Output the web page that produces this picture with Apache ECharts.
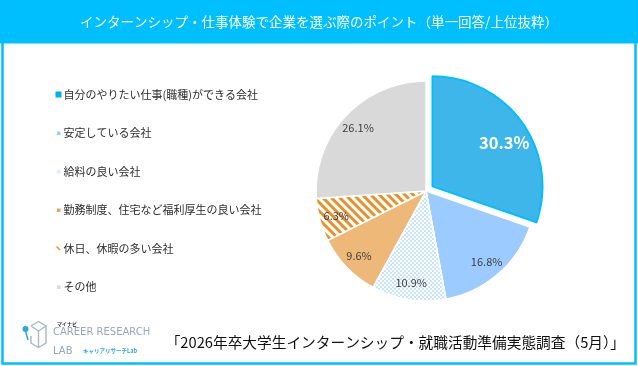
<!DOCTYPE html>
<html><head><meta charset="utf-8">
<script src="https://cdn.jsdelivr.net/npm/echarts@6/dist/echarts.min.js"></script>
<style>html,body{margin:0;padding:0;background:#fff}#c{width:638px;height:366px}</style>
</head><body><div id="c"></div>
<script>
const categories = ['自分のやりたい仕事(職種)ができる会社','安定している会社','給料の良い会社','勤務制度、住宅など福利厚生の良い会社','休日、休暇の多い会社','その他'];
const values = [30.3, 16.8, 10.9, 9.6, 6.3, 26.1];
const titleText = 'インターンシップ・仕事体験で企業を選ぶ際のポイント（単一回答/上位抜粋）';
const sourceText = '「2026年卒大学生インターンシップ・就職活動準備実態調査（5月）」';

const FONT = '"Noto Sans CJK JP", "Noto Sans", sans-serif';
const CYAN = '#00BFFF';
const styles = [
  {color:'#3FB6EA', borderColor:CYAN, borderWidth:2},
  {color:'#9CCBFF', borderColor:'#fff', borderWidth:1.5},
  {color:'#ffffff', borderColor:'#fff', borderWidth:1.5,
   decal:{symbol:'rect', symbolSize:1, color:'#C6E4FF', dashArrayX:[[2,2],[0,2,2,0]], dashArrayY:[2,0], rotation:0}},
  {color:'#EDB878', borderColor:'#fff', borderWidth:1.5},
  {color:'#ffffff', borderColor:'#fff', borderWidth:1.5,
   decal:{symbol:'rect', symbolSize:1, color:'#E8912C', dashArrayX:[1,0], dashArrayY:[3,3], rotation:Math.PI/4}},
  {color:'#D9D9D9', borderColor:'#fff', borderWidth:1.5}
];
const labelStyles = [
  {color:'#fff', fontSize:16.5, fontWeight:'bold'},
  {color:'#404040', fontSize:11},{color:'#404040', fontSize:11},{color:'#404040', fontSize:11},
  {color:'#404040', fontSize:11},{color:'#404040', fontSize:11}
];
const legendIcons = [
  {icon:'path://M0,0M8,8M1,1h6v6h-6z', color:'#00B0F0'},
  {icon:'path://M0,0M8,8M2.5,2.5h3.5v3.5h-3.5z', color:'#9CCBFF'},
  {icon:'path://M0,0M8,8M2.5,2.5h3.5v3.5h-3.5z', color:'#D6ECFF'},
  {icon:'path://M0,0M8,8M2.5,2.5h3.5v3.5h-3.5z', color:'#EDA55A'},
  {icon:'path://M0,0M8,8M1.5,2.5l1.2,-1l3.3,3.5l-1.2,1z', color:'#E8912C'},
  {icon:'path://M0,0M8,8M2.5,2.5h3.5v3.5h-3.5z', color:'#D9D9D9'}
];

const chart = echarts.init(document.getElementById('c'), null, {renderer:'canvas'});
const mainData = categories.map((n,i)=>({name:n, value:values[i], selected:i===0, itemStyle:styles[i]}));
const labelData = categories.map((n,i)=>({name:n, value:values[i], selected:i===0, label:labelStyles[i]}));

chart.setOption({
  backgroundColor:'#fff',
  animation:false,
  graphic:[
    {type:'rect', shape:{x:0, y:0, width:638, height:43.5}, style:{fill:CYAN}, z:0},
    {type:'rect', shape:{x:2.5, y:1.5, width:633, height:362}, style:{fill:null, stroke:CYAN, lineWidth:2.5}, z:1},
    {type:'text', x:319, y:22, style:{text:titleText, fill:'#fff', font:'13.5px '+FONT, textAlign:'center', textVerticalAlign:'middle'}, z:2},
    {type:'text', x:625, y:342, style:{text:sourceText, fill:'#111', font:'14.7px '+FONT, textAlign:'right', textVerticalAlign:'middle'}, z:2},
    // logo
    {type:'group', x:0, y:0, z:2, children:[
      {type:'polyline', shape:{points:[[31,326],[38.5,321.5],[46,326],[46,343],[38.5,347.5],[31,343],[31,336]]}, style:{stroke:'#A9B9C9', lineWidth:1.4, fill:null}},
      {type:'polyline', shape:{points:[[31,326],[38.5,331],[46,326]]}, style:{stroke:'#A9B9C9', lineWidth:1.4, fill:null}},
      {type:'line', shape:{x1:38.5, y1:331, x2:38.5, y2:347.5}, style:{stroke:'#A9B9C9', lineWidth:1.4}},
      {type:'line', shape:{x1:25.5, y1:331, x2:28, y2:340}, style:{stroke:'#2EA7E0', lineWidth:1.5}},
      {type:'circle', shape:{cx:25.5, cy:329, r:3}, style:{fill:'#2EA7E0'}},
      {type:'text', x:57, y:324, style:{text:'マイナビ', fill:'#333', font:'bold 5px '+FONT, textVerticalAlign:'middle'}},
      {type:'text', x:53, y:332.5, style:{text:'CAREER RESEARCH', fill:'#97A8BB', font:'10px "DejaVu Sans", sans-serif', textVerticalAlign:'middle'}},
      {type:'text', x:53, y:351, style:{text:'LAB', fill:'#97A8BB', font:'10px "DejaVu Sans", sans-serif', textVerticalAlign:'middle'}},
      {type:'text', x:83, y:351, style:{text:'キャリアリサーチLab', fill:'#2EA7E0', font:'bold 5.5px '+FONT, textVerticalAlign:'middle'}}
    ]}
  ],
  legend:{
    orient:'vertical', left:49.5, top:84, itemWidth:8, itemHeight:8, itemGap:27.5,
    selectedMode:false,
    data:categories.map((n,i)=>({name:n, icon:legendIcons[i].icon, itemStyle:{color:legendIcons[i].color, decal:'none', borderWidth:0}})),
    textStyle:{fontFamily:FONT, fontSize:11, color:'#2E2E2E', padding:[0,0,0,-4]}
  },
  series:[
    {type:'pie', center:[426,191], radius:[0,110], startAngle:90, clockwise:true,
     selectedMode:'single', selectedOffset:8, silent:true, label:{show:false}, labelLine:{show:false},
     emphasis:{disabled:true}, data:mainData},
    {type:'pie', center:[426,191], radius:[70,110], startAngle:90, clockwise:true,
     selectedMode:'single', selectedOffset:8, silent:true, z:3,
     itemStyle:{color:'rgba(0,0,0,0)', borderWidth:0},
     label:{show:true, position:'inside', formatter:p=>p.value.toFixed(1)+'%', fontFamily:FONT},
     labelLayout:function(p){ return p.dataIndex===0 ? {dx:-4, dy:10} : {}; },
     labelLine:{show:false}, emphasis:{disabled:true}, data:labelData, legendHoverLink:false}
  ]
});
</script></body></html>
